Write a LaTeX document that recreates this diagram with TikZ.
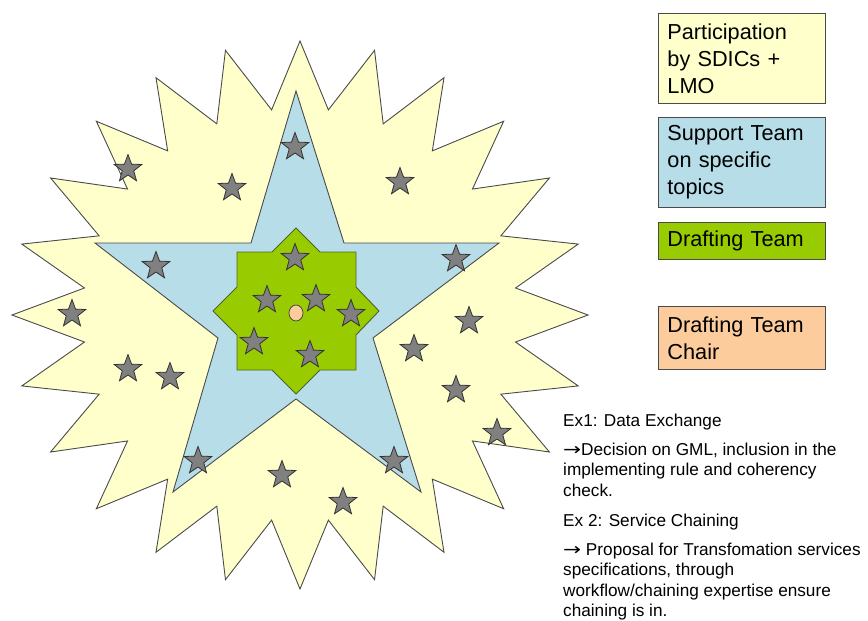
\documentclass[tikz,border=0pt]{standalone}
\usepackage{fontspec}
\usepackage{graphicx}
\setmainfont{Liberation Sans}
\newfontfamily\arrowfont{DejaVu Sans}
\newcommand{\rarr}{\scalebox{1.25}[1]{\arrowfont →}}
\usetikzlibrary{shapes.geometric}
\definecolor{yel}{HTML}{FFFFCC}
\definecolor{blu}{HTML}{B7DEE8}
\definecolor{grn}{HTML}{99CC00}
\definecolor{org}{HTML}{FCCC9C}
\definecolor{gry}{HTML}{808080}
\definecolor{edge}{HTML}{4A4A4A}
\definecolor{grnedge}{HTML}{4F6228}
\begin{document}
\begin{tikzpicture}[x=1pt,y=-1pt,
  outline/.style={draw=edge,line width=0.9pt,line join=miter},
  greystar/.style={star,star points=5,star point ratio=2.4,minimum size=29pt,inner sep=0pt,fill=gry,draw=black!80,line width=0.8pt},
  legend/.style={draw=edge,line width=0.9pt,anchor=north west,minimum width=167pt,text width=149pt,inner xsep=9pt,inner ysep=0pt,align=left,font=\fontsize{21.7}{27}\selectfont},
  note/.style={anchor=north west,inner sep=0pt,align=left,font=\fontsize{17.2}{20.5}\selectfont}]
\useasboundingbox (0,0) rectangle (868,621);

% outer burst (participation)
\path[outline,fill=yel] (300,41)
  \foreach \i in {0,...,23} {
    -- ({300+217.4*cos(97.5+15*\i)},{315-206.9*sin(97.5+15*\i)})
    -- ({300+288*cos(105+15*\i)},{315-274*sin(105+15*\i)})
  } -- cycle;

% five-point star (support team)
\path[outline,fill=blu] (296,91) -- (344,243) -- (499,243) -- (373,338) -- (421,492)
  -- (296,399) -- (173,492) -- (218,338) -- (95,243) -- (251,243) -- cycle;

% eight-point star (drafting team)
\path[draw=grnedge,line width=0.9pt,fill=grn] (296,228) -- (320,252) -- (356,252) -- (356,287)
  -- (379,311) -- (356,335) -- (356,370) -- (320,370) -- (296,394) -- (272,370)
  -- (237,370) -- (237,335) -- (213,311) -- (237,287) -- (237,252) -- (272,252) -- cycle;

% chair
\node[ellipse,fill=org,draw=edge,line width=0.8pt,minimum width=14pt,minimum height=16pt,inner sep=0pt] (chair) at (296,313) {};

% participants
\foreach \n/\x/\y in {1/128/168,2/232/187,3/295/146,4/400/181,5/156/265,6/295/257,7/456/258,
  8/267/299,9/316/298,10/351/313,11/254/341,12/310/354,13/72/313,14/469/320,15/414/348,
  16/128/368,17/170/376,18/456/389,19/497/432,20/198/460,21/394/460,22/282/474,23/343/501}
  \node[greystar] (s\n) at (\x,\y+1) {};

% legend
\node[legend,fill=yel,minimum height=90pt] (lg1) at (658,13) {Participation\\by SDICs +\\LMO};
\node[legend,fill=blu,minimum height=90pt] (lg2) at (658,117) {Support Team\\on specific\\topics};
\node[legend,fill=grn,minimum height=37pt] (lg3) at (658,222) {Drafting Team};
\node[legend,fill=org,minimum height=63pt] (lg4) at (658,306) {Drafting Team\\Chair};

% examples
\node[note] (ex1) at (563,413.5) {Ex1: Data Exchange};
\node[note] (ex1b) at (563,442.5) {\rarr Decision on GML, inclusion in the\\implementing rule and coherency\\check.};
\node[note] (ex2) at (563,513.5) {Ex 2: Service Chaining};
\node[note] (ex2b) at (563,542.5) {\rarr{} Proposal for Transfomation services\\specifications, through\\workflow/chaining expertise ensure\\chaining is in.};
\end{tikzpicture}
\end{document}
